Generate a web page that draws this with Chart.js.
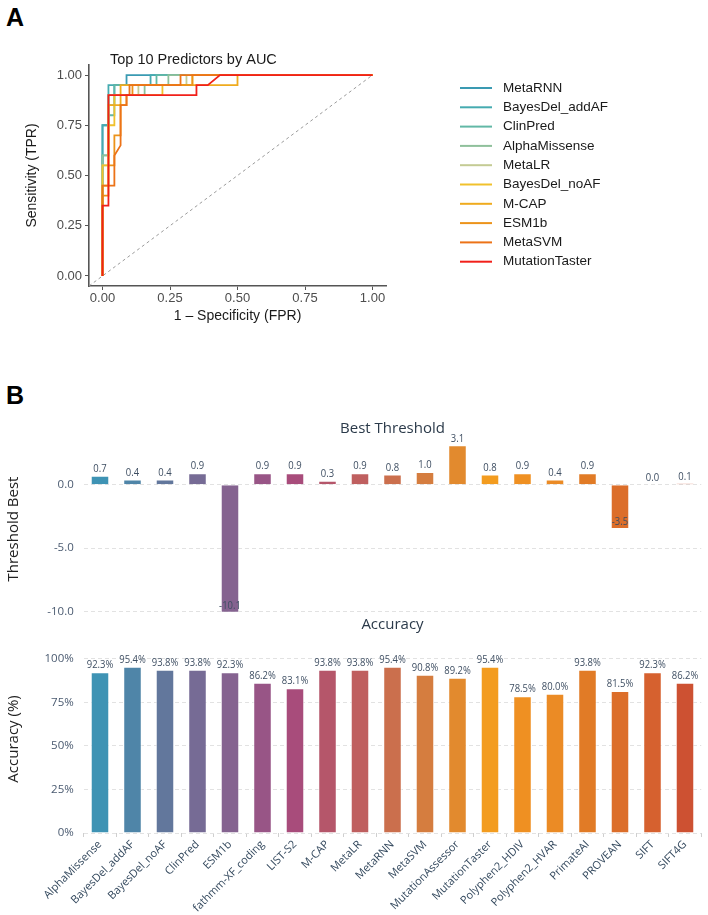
<!DOCTYPE html>
<html>
<head>
<meta charset="utf-8">
<script src="https://cdn.jsdelivr.net/npm/chart.js@4.4.1/dist/chart.umd.min.js"></script>
<style>
  body { margin: 0; background: #fff; width: 708px; height: 915px; position: relative; overflow: hidden; }
  canvas { position: absolute; left: 0; }
  .tag { position: absolute; left: 6px; font: bold 25px "Liberation Sans", Arial, sans-serif; color: #000; }
  .sub { position: absolute; left: 84px; width: 617px; text-align: center; font: 15px "Open Sans", sans-serif; color: #2b3a4a; }
</style>
</head>
<body>
<div class="tag" style="top:3px">A</div>
<div class="tag" style="top:381px">B</div>
<canvas id="roc" width="708" height="380" style="top:0"></canvas>
<canvas id="thr" width="708" height="258" style="top:380px"></canvas>
<canvas id="acc" width="708" height="287" style="top:628px"></canvas>
<div class="sub" style="top:417px">Best Threshold</div>
<div class="sub" style="top:613px">Accuracy</div>
<script>
// ---- panel A: ROC curves, [FPR, TPR] steps ----
const rocNames = ["MetaRNN", "BayesDel_addAF", "ClinPred", "AlphaMissense", "MetaLR",
                  "BayesDel_noAF", "M-CAP", "ESM1b", "MetaSVM", "MutationTaster"];
const rocMetaRNN = [[0,0],[0,0.75],[0.022,0.75],[0.022,0.9],[0.044,0.9],[0.044,0.95],[0.089,0.95],[0.089,1],[1,1]];
const rocBayesDelAddAF = [[0,0],[0,0.75],[0.022,0.75],[0.022,0.95],[0.178,0.95],[0.178,1],[1,1]];
const rocClinPred = [[0,0],[0,0.6],[0.022,0.6],[0.022,0.8],[0.044,0.8],[0.044,0.95],[0.2,0.95],[0.2,1],[1,1]];
const rocAlphaMissense = [[0,0],[0,0.6],[0.022,0.6],[0.022,0.85],[0.044,0.85],[0.044,0.9],[0.156,0.9],[0.156,0.95],[0.244,0.95],[0.244,1],[1,1]];
const rocMetaLR = [[0,0],[0,0.55],[0.022,0.55],[0.022,0.9],[0.133,0.9],[0.133,0.95],[0.311,0.95],[0.311,1],[1,1]];
const rocBayesDelNoAF = [[0,0],[0,0.55],[0.022,0.55],[0.022,0.75],[0.044,0.75],[0.044,0.9],[0.222,0.9],[0.222,0.95],[0.333,0.95],[0.333,1],[1,1]];
const rocMCAP = [[0,0],[0,0.45],[0.022,0.45],[0.022,0.85],[0.067,0.85],[0.067,0.95],[0.5,0.95],[0.5,1],[1,1]];
const rocESM1b = [[0,0],[0,0.4],[0.022,0.4],[0.022,0.55],[0.044,0.55],[0.044,0.7],[0.067,0.7],[0.067,0.85],[0.089,0.85],[0.089,0.9],[0.111,0.9],[0.111,0.95],[0.333,0.95],[0.333,1],[1,1]];
const rocMetaSVM = [[0,0],[0,0.45],[0.044,0.45],[0.044,0.6],[0.067,0.65],[0.067,0.85],[0.089,0.85],[0.089,0.9],[0.1,0.9],[0.1,0.95],[0.289,0.95],[0.289,1],[1,1]];
const rocMutationTaster = [[0,0],[0,0.35],[0.022,0.35],[0.022,0.9],[0.348,0.9],[0.348,0.95],[0.39,0.95],[0.435,1],[1,1]];
const rocCurves = [rocMetaRNN, rocBayesDelAddAF, rocClinPred, rocAlphaMissense, rocMetaLR,
                   rocBayesDelNoAF, rocMCAP, rocESM1b, rocMetaSVM, rocMutationTaster];
const chanceLine = [[-0.05,-0.05],[1,1]];
const rocTicks = [0, 0.25, 0.5, 0.75, 1];

// ---- panel B: per-predictor threshold and accuracy ----
const predictors = ["AlphaMissense", "BayesDel_addAF", "BayesDel_noAF", "ClinPred", "ESM1b",
  "fathmm-XF_coding", "LIST-S2", "M-CAP", "MetaLR", "MetaRNN", "MetaSVM", "MutationAssessor",
  "MutationTaster", "Polyphen2_HDIV", "Polyphen2_HVAR", "PrimateAI", "PROVEAN", "SIFT", "SIFT4G"];
const thresholdBest = [0.7, 0.4, 0.4, 0.9, -10.1, 0.9, 0.9, 0.3, 0.9, 0.8, 1.0, 3.1, 0.8, 0.9, 0.4, 0.9, -3.5, 0.0, 0.1];
const accuracy = [92.3, 95.4, 93.8, 93.8, 92.3, 86.2, 83.1, 93.8, 93.8, 95.4, 90.8, 89.2, 95.4, 78.5, 80.0, 93.8, 81.5, 92.3, 86.2];
const thresholdTicks = [0, -5, -10];
const accuracyTicks = [0, 25, 50, 75, 100];

const rocColors = ["#3A9AB2", "#45ABB0", "#62B8A6", "#8FC09B", "#C4CB94",
                   "#F0C12C", "#EFAB1E", "#EC931A", "#EC7318", "#F1201A"];
const barColors = ["#3E93B4", "#4F85A8", "#62779C", "#766B95", "#856390", "#985586", "#A84C7B",
  "#B5566A", "#BF5F5F", "#CB6F4D", "#D57D3F", "#E28A2E", "#F39C1F", "#EF9022", "#EB8B25",
  "#E17B26", "#DC6E2A", "#D6612F", "#CD5132"];

const sans = '"Liberation Sans", Arial, sans-serif';
const open = '"Open Sans", sans-serif';

const rocDecor = {
  id: 'rocDecor',
  afterDraw(chart) {
    const ctx = chart.ctx;
    ctx.save();
    ctx.fillStyle = '#1a1a1a';
    ctx.textBaseline = 'middle';
    ctx.font = '14.5px ' + sans;
    ctx.fillText('Top 10 Predictors by AUC', 110, 60);
    ctx.font = '13.5px ' + sans;
    rocNames.forEach((name, i) => {
      const y = 88 + i * 19.3;
      ctx.strokeStyle = rocColors[i];
      ctx.lineWidth = 2;
      ctx.beginPath();
      ctx.moveTo(460, y);
      ctx.lineTo(492, y);
      ctx.stroke();
      ctx.fillText(name, 503, y);
    });
    ctx.restore();
  }
};

const toPoints = arr => arr.map(p => ({ x: p[0], y: p[1] }));

new Chart(document.getElementById('roc'), {
  type: 'scatter',
  data: {
    datasets: rocCurves.map((c, i) => ({
      label: rocNames[i],
      data: toPoints(c),
      showLine: true,
      borderColor: rocColors[i],
      borderWidth: 1.8,
      pointRadius: 0,
      order: rocCurves.length - 1 - i
    })).concat([{
      label: 'chance',
      data: toPoints(chanceLine),
      showLine: true,
      borderColor: '#9a9a9a',
      borderWidth: 1,
      borderDash: [3, 3],
      pointRadius: 0,
      order: 100
    }])
  },
  options: {
    responsive: false,
    animation: false,
    layout: { padding: { left: 24, top: 65, right: 322, bottom: 53 } },
    plugins: { legend: { display: false }, tooltip: { enabled: false } },
    scales: {
      x: {
        type: 'linear', min: -0.05, max: 1.05,
        afterBuildTicks: a => { a.ticks = rocTicks.map(v => ({ value: v })); },
        afterFit: a => { a.height = 41; },
        grid: { drawOnChartArea: false, color: '#555', tickLength: 4 },
        border: { color: '#555', width: 1.6 },
        ticks: { autoSkip: false, maxRotation: 0, padding: 1, color: '#4d4d4d',
                 font: { family: sans, size: 13 }, callback: v => v.toFixed(2) },
        title: { display: true, text: '1 – Specificity (FPR)', color: '#1a1a1a',
                 font: { family: sans, size: 14 }, padding: { top: 0, bottom: 2 } }
      },
      y: {
        type: 'linear', min: -0.05, max: 1.05,
        afterBuildTicks: a => { a.ticks = rocTicks.map(v => ({ value: v })); },
        afterFit: a => { a.width = 65; },
        grid: { drawOnChartArea: false, color: '#555', tickLength: 4 },
        border: { color: '#555', width: 1.6 },
        ticks: { autoSkip: false, padding: 3, color: '#4d4d4d',
                 font: { family: sans, size: 13 }, callback: v => v.toFixed(2) },
        title: { display: true, text: 'Sensitivity (TPR)', color: '#1a1a1a',
                 font: { family: sans, size: 14 }, padding: 0 }
      }
    }
  },
  plugins: [rocDecor]
});

// value labels above bar ends (inside the bar end for negatives)
const barValueLabels = {
  id: 'barValueLabels',
  afterDatasetsDraw(chart, args, opts) {
    const ctx = chart.ctx;
    const values = chart.data.datasets[0].data;
    ctx.save();
    ctx.font = '11px ' + open;
    ctx.fillStyle = '#3f4f63';
    ctx.textAlign = 'center';
    ctx.textBaseline = 'bottom';
    chart.getDatasetMeta(0).data.forEach((bar, i) => {
      ctx.save();
      ctx.translate(bar.x, bar.y - 1.5);
      ctx.scale(0.86, 1);
      ctx.fillText(values[i].toFixed(1) + (opts.suffix || ''), 0, 0);
      ctx.restore();
    });
    ctx.restore();
  }
};

function barChart(id, values, yOpts, xOpts, padding, suffix) {
  return new Chart(document.getElementById(id), {
    type: 'bar',
    data: {
      labels: predictors,
      datasets: [{
        data: values,
        backgroundColor: barColors,
        borderColor: 'rgba(255,255,255,0.75)',
        borderWidth: 1,
        barPercentage: 0.57,
        categoryPercentage: 1
      }]
    },
    options: {
      responsive: false,
      animation: false,
      layout: { padding: padding },
      plugins: { legend: { display: false }, tooltip: { enabled: false }, barValueLabels: { suffix: suffix } },
      scales: { x: xOpts, y: yOpts }
    },
    plugins: [barValueLabels]
  });
}

const yCommon = {
  afterFit: a => { a.width = 79; },
  grid: { color: '#e2e2e2', drawTicks: false, lineWidth: 1 },
  border: { display: false, dash: [4, 3] }
};

barChart('thr', thresholdBest, Object.assign({}, yCommon, {
  min: -10.76, max: 3.76,
  afterBuildTicks: a => { a.ticks = thresholdTicks.map(v => ({ value: v })); },
  ticks: { padding: 10, color: '#4a5a70', font: { family: open, size: 11.5 }, callback: v => v.toFixed(1) },
  title: { display: true, text: 'Threshold Best', color: '#222', font: { family: open, size: 15 }, padding: 0 }
}), { display: false }, { left: 4.75, right: 6.75, top: 57, bottom: 16.3 }, '');

barChart('acc', accuracy, Object.assign({}, yCommon, {
  min: 0, max: 108,
  afterBuildTicks: a => { a.ticks = accuracyTicks.map(v => ({ value: v })); },
  ticks: { padding: 10, color: '#4a5a70', font: { family: open, size: 11.5 }, callback: v => v + '%' },
  title: { display: true, text: 'Accuracy (%)', color: '#222', font: { family: open, size: 15 }, padding: 0 }
}), {
  afterFit: a => { a.height = 80; },
  grid: { drawOnChartArea: false, drawTicks: true, tickLength: 4, color: '#cfcfcf' },
  border: { display: false },
  ticks: { autoSkip: false, maxRotation: 45, minRotation: 45, padding: 1, color: '#34495e',
           font: { family: open, size: 11 } }
}, { left: 4.75, right: 6.75, top: 16, bottom: 2 }, '%');
</script>
</body>
</html>
